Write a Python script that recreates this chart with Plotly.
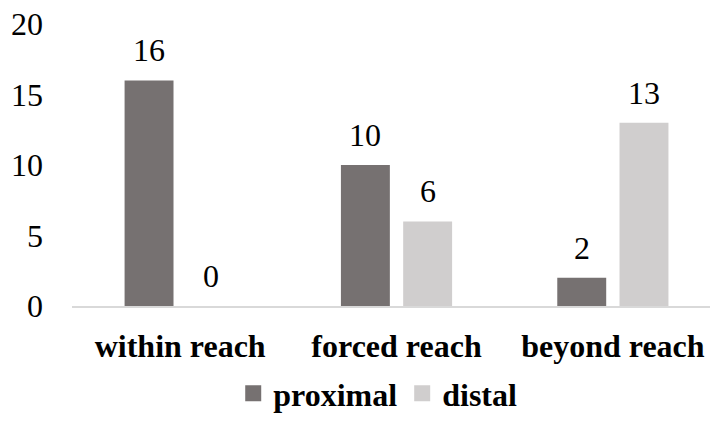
import plotly.graph_objects as go

# Reach categories and counts per attachment type
categories = ["within reach", "forced reach", "beyond reach"]
proximal = [16, 10, 2]
distal = [0, 6, 13]
y_ticks = [0, 5, 10, 15, 20]

# Grouped-bar geometry (in category units)
BARGAP = 0.4245
BARGROUPGAP = 0.214
SLOT = (1 - BARGAP) / 2

series = [
    ("proximal", proximal, "#767171", -SLOT / 2),
    ("distal", distal, "#D0CECE", SLOT / 2),
]

FONT = "Liberation Serif"
SIZE = 32

fig = go.Figure()
for name, values, color, _ in series:
    fig.add_trace(go.Bar(
        x=categories, y=values, name=name,
        marker=dict(color=color, line=dict(width=0)),
        showlegend=False, hoverinfo="skip",
    ))

# Legend entries with larger square swatches
for name, _, color, _ in series:
    fig.add_trace(go.Scatter(
        x=[None], y=[None], mode="markers", name=f"<b>{name}</b>",
        marker=dict(symbol="square", size=16, color=color),
        showlegend=True,
    ))

# Value labels above each bar
for name, values, color, off in series:
    for i, v in enumerate(values):
        fig.add_annotation(
            x=i + off, y=v, xref="x", yref="y",
            text=str(v), showarrow=False,
            yanchor="bottom", yshift=10,
            font=dict(family=FONT, size=SIZE, color="#000000"),
        )

fig.update_layout(
    width=710, height=421,
    margin=dict(l=72, r=0, t=23.5, b=115),
    paper_bgcolor="white", plot_bgcolor="white",
    barmode="group", bargap=BARGAP, bargroupgap=BARGROUPGAP,
    font=dict(family=FONT, size=SIZE, color="#000000"),
    legend=dict(
        orientation="h", xref="container", yref="container",
        x=0.532, xanchor="center", y=0.0, yanchor="bottom",
        font=dict(family=FONT, size=SIZE, color="#000000"),
        itemsizing="trace", itemwidth=30, tracegroupgap=0,
    ),
)

fig.update_xaxes(
    type="category", range=[-0.5, 2.449],
    tickvals=categories, ticktext=[f"<b>{c}</b>" for c in categories],
    showline=True, linecolor="#D9D9D9", linewidth=1.5,
    showgrid=False, ticks="", zeroline=False,
    tickfont=dict(family=FONT, size=SIZE, color="#000000"),
    ticklabelstandoff=11, automargin=False,
)
fig.update_yaxes(
    range=[0, 20], tickvals=y_ticks,
    showline=False, showgrid=False, zeroline=False, ticks="",
    tickfont=dict(family=FONT, size=SIZE, color="#000000"),
    ticklabelstandoff=28, automargin=False,
)

fig.write_html("out.html")
